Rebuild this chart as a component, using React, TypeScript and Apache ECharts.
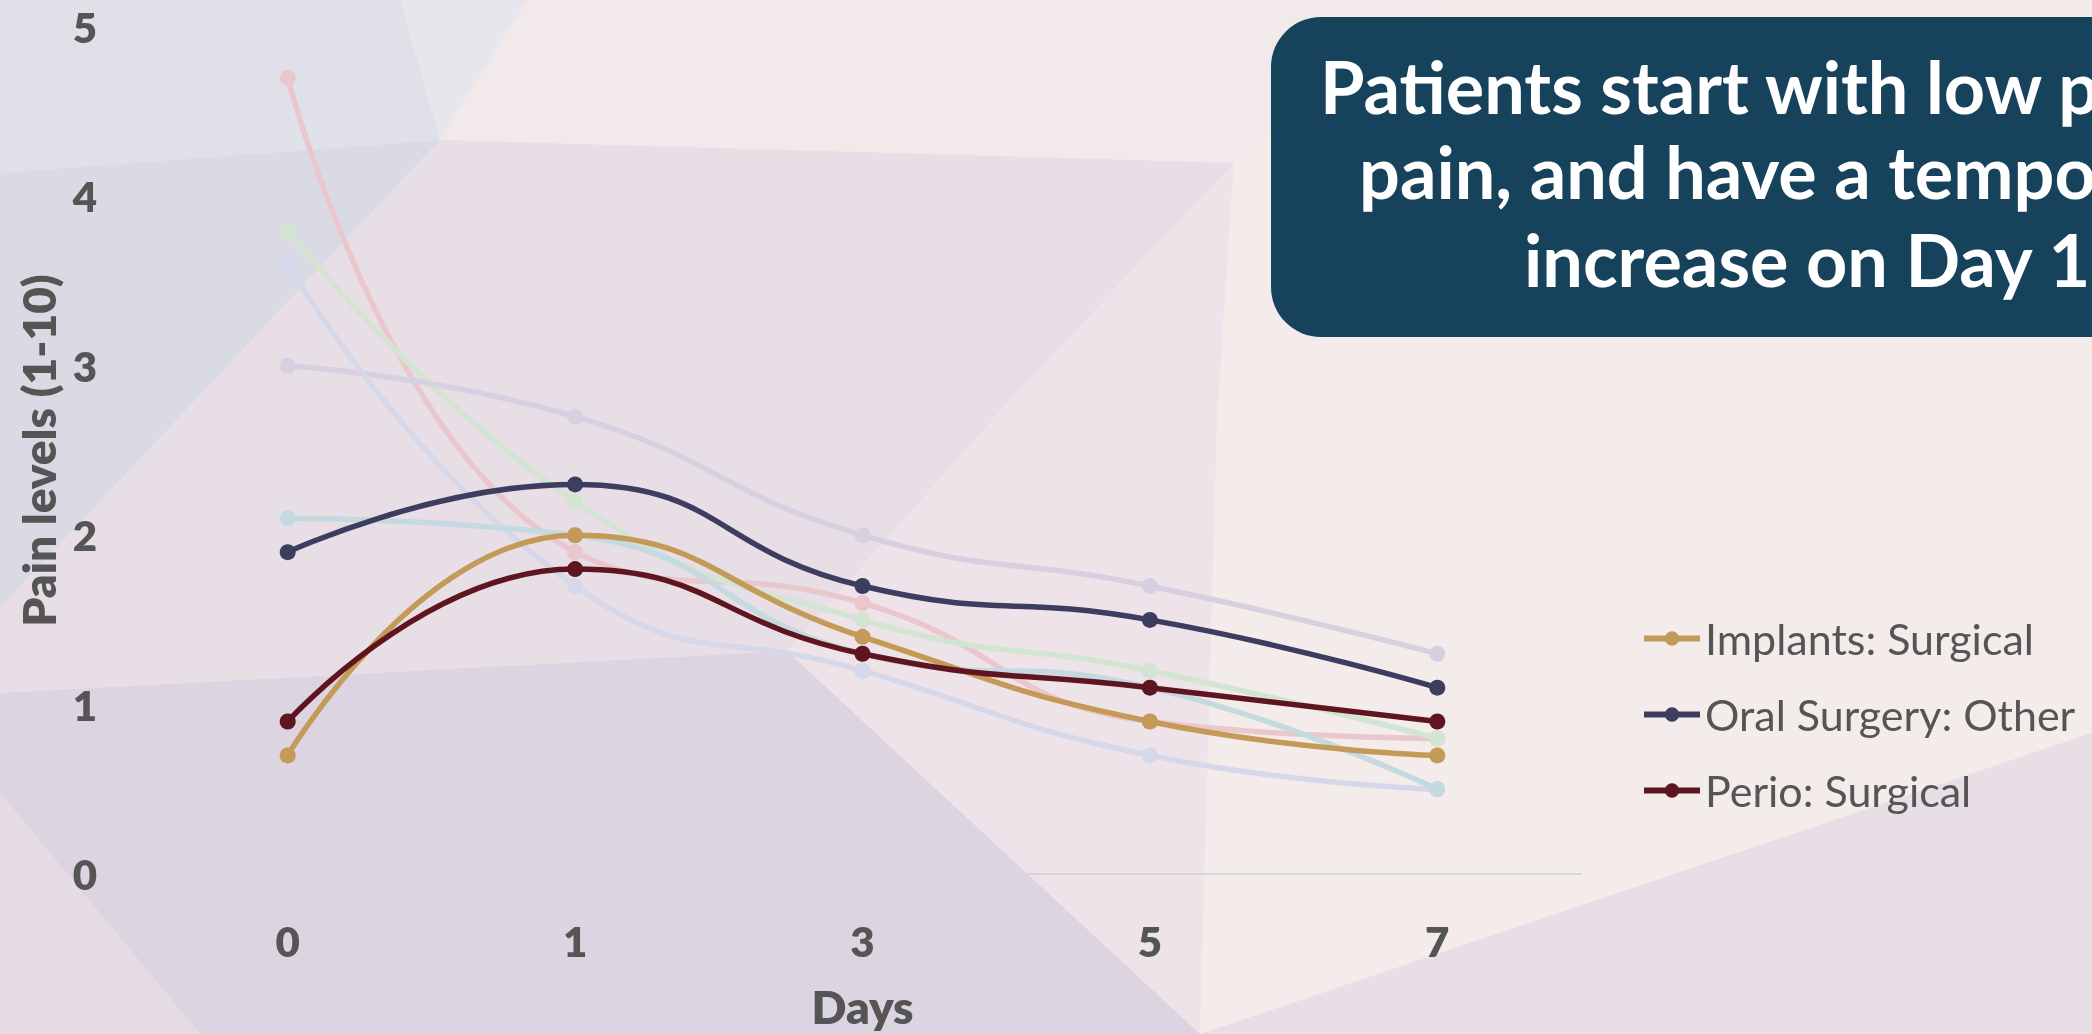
import React, { useEffect, useRef } from 'react';
import * as echarts from 'echarts';

// ---- data ----
const days = ['0', '1', '3', '5', '7'];
const implantsSurgical = [0.7, 2.0, 1.4, 0.9, 0.7];
const oralSurgeryOther = [1.9, 2.3, 1.7, 1.5, 1.1];
const perioSurgical = [0.9, 1.8, 1.3, 1.1, 0.9];
const fadedPink = [4.7, 1.9, 1.6, 0.9, 0.8];
const fadedGreen = [3.8, 2.2, 1.5, 1.2, 0.8];
const fadedLavender = [3.0, 2.7, 2.0, 1.7, 1.3];
const fadedPeriwinkle = [3.6, 1.7, 1.2, 0.7, 0.5];
const fadedLightBlue = [2.1, 2.0, 1.3, 1.1, 0.5];
const legendNames = ['Implants: Surgical', 'Oral Surgery: Other', 'Perio: Surgical'];
const titleLines = ['Patients start with low post-op', 'pain, and have a temporary', 'increase on Day 1'];
const xAxisName = 'Days';
const yAxisName = 'Pain levels (1-10)';

const FONT = 'Lato, "Source Sans Pro", "Noto Sans", sans-serif';

const bgPolys: { pts: number[][]; fill: string }[] = [
  { pts: [[0, 0], [2092, 0], [2092, 1034], [0, 1034]], fill: '#EFE6E9' },
  { pts: [[0, 0], [400, 0], [440, 140], [0, 173]], fill: '#E0E0E9' },
  { pts: [[400, 0], [527, 0], [440, 140]], fill: '#E7E6EC' },
  { pts: [[527, 0], [1450, 0], [1234, 163], [440, 140]], fill: '#F2EAEA' },
  { pts: [[0, 173], [440, 140], [0, 608]], fill: '#DADAE5' },
  { pts: [[440, 140], [1234, 163], [1010, 400], [787, 651], [0, 693], [0, 608]], fill: '#E8DEE6' },
  { pts: [[1010, 400], [1234, 163], [1217, 420], [1200, 1034], [787, 651]], fill: '#EEE3E8' },
  { pts: [[0, 693], [787, 651], [1200, 1034], [200, 1034], [0, 793]], fill: '#DCD4E1' },
  { pts: [[0, 793], [200, 1034], [0, 1034]], fill: '#E5DCE3' },
  { pts: [[1450, 0], [2092, 0], [2092, 733], [1200, 1034], [1217, 420], [1234, 163]], fill: '#F3ECEB' },
  { pts: [[1200, 1034], [2092, 733], [2092, 1034]], fill: '#E8DEE6' },
];

function fadedSeries(name: string, data: number[], color: string) {
  return {
    name,
    type: 'line',
    data,
    smooth: true,
    symbol: 'circle',
    symbolSize: 16,
    lineStyle: { width: 5.5, color },
    itemStyle: { color },
    z: 2,
    silent: true,
  };
}

function mainSeries(name: string, data: number[], color: string) {
  return {
    name,
    type: 'line',
    data,
    smooth: true,
    symbol: 'circle',
    symbolSize: 16,
    lineStyle: { width: 5.5, color },
    itemStyle: { color },
    z: 3,
  };
}

export default function App() {
  const ref = useRef<HTMLDivElement>(null);
  useEffect(() => {
    document.body.style.margin = '0';
    if (!ref.current) return;
    const chart = echarts.init(ref.current, null, { renderer: 'svg' });
    const titleBaselines = [102, 187, 275];
    const titleStarts = [1320, 1359, 1524];
    const labelWeight = 800;
    const option: any = {
      animation: false,
      textStyle: { fontFamily: FONT },
      grid: { left: 144, right: 511, top: 27, bottom: 158, containLabel: false },
      graphic: [
        ...bgPolys.map((p) => ({
          type: 'polygon',
          shape: { points: p.pts },
          style: { fill: p.fill },
          z: -10,
          silent: true,
        })),
        {
          type: 'rect',
          shape: { x: 1271, y: 17, width: 900, height: 320, r: 50 },
          style: { fill: '#16425C' },
          z: 50,
          silent: true,
        },
        ...titleLines.map((t, i) => ({
          type: 'text',
          x: titleStarts[i],
          y: titleBaselines[i] - 16,
          z: 51,
          silent: true,
          style: {
            text: t,
            fill: '#FFFFFF',
            font: `bold 72px ${FONT}`,
            textAlign: 'left',
            textVerticalAlign: 'middle',
            align: 'left',
            verticalAlign: 'middle',
          },
        })),
      ],
      legend: {
        data: legendNames,
        orient: 'vertical',
        left: 1636,
        top: 612,
        itemWidth: 56,
        itemHeight: 18,
        itemGap: 33,
        lineStyle: { width: 6 },
        textStyle: { fontSize: 43, color: '#555555', fontFamily: FONT },
      },
      xAxis: {
        type: 'category',
        data: days,
        boundaryGap: true,
        axisLine: { lineStyle: { color: '#D6D6DA', width: 2 } },
        axisTick: { show: false },
        axisLabel: { fontSize: 42, fontWeight: labelWeight, color: '#555555', margin: 46, fontFamily: FONT },
        splitLine: { show: false },
        name: xAxisName,
        nameLocation: 'middle',
        nameGap: 109,
        nameTextStyle: { fontSize: 46, fontWeight: labelWeight, color: '#555555', fontFamily: FONT },
      },
      yAxis: {
        type: 'value',
        min: 0,
        max: 5,
        interval: 1,
        axisLine: { show: false },
        axisTick: { show: false },
        splitLine: { show: false },
        axisLabel: { fontSize: 42, fontWeight: labelWeight, color: '#555555', margin: 47, fontFamily: FONT },
        name: yAxisName,
        nameLocation: 'middle',
        nameGap: 83,
        nameTextStyle: { fontSize: 46, fontWeight: labelWeight, color: '#555555', fontFamily: FONT },
      },
      series: [
        fadedSeries('Faded A', fadedPink, '#E9C7CD'),
        fadedSeries('Faded B', fadedGreen, '#D2E4D2'),
        fadedSeries('Faded C', fadedLavender, '#D7D0E0'),
        fadedSeries('Faded D', fadedPeriwinkle, '#D5D8E9'),
        fadedSeries('Faded E', fadedLightBlue, '#C4D9E0'),
        mainSeries(legendNames[0], implantsSurgical, '#C49A58'),
        mainSeries(legendNames[1], oralSurgeryOther, '#3C3D5F'),
        mainSeries(legendNames[2], perioSurgical, '#5E1520'),
      ],
    };
    chart.setOption(option);
    return () => chart.dispose();
  }, []);
  return (
    <div
      ref={ref}
      style={{ position: 'fixed', left: 0, top: 0, width: 2092, height: 1034, overflow: 'hidden' }}
    />
  );
}
